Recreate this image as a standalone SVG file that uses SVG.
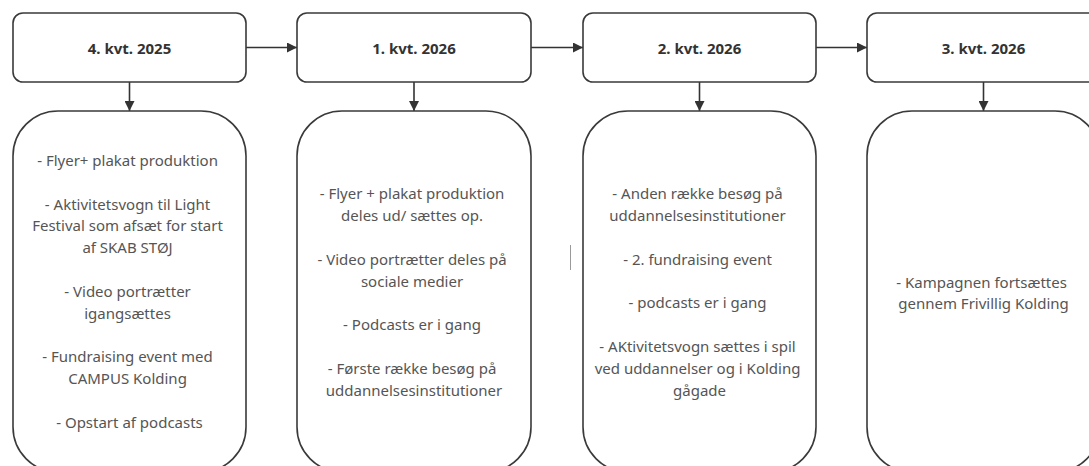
<svg xmlns="http://www.w3.org/2000/svg" width="1089" height="466" viewBox="0 0 1089 466">
<defs>
<marker id="ah" viewBox="0 0 10 10" refX="10" refY="5" markerWidth="10" markerHeight="10" markerUnits="userSpaceOnUse" orient="auto">
<path d="M0,0 L10,5 L0,10 Z" fill="#333333"/>
</marker>
</defs>
<style>
.hdr{fill:#ffffff;stroke:#3a3a3a;stroke-width:1.6}
.box{fill:#ffffff;stroke:#3a3a3a;stroke-width:1.6}
.ht{font-family:"Noto Sans","Open Sans","Liberation Sans",sans-serif;font-size:15px;font-weight:bold;fill:#333333;text-anchor:middle;dominant-baseline:central}
.bt{font-family:"Noto Sans","Open Sans","Liberation Sans",sans-serif;font-size:15px;fill:#555555;text-anchor:middle;dominant-baseline:central}
.con{fill:none;stroke:#333333;stroke-width:1.6;marker-end:url(#ah)}
</style>
<rect width="1089" height="466" fill="#ffffff"/>
<g id="connectors">
<line class="con" x1="246" y1="47.5" x2="297" y2="47.5"/>
<line class="con" x1="531" y1="47.5" x2="583" y2="47.5"/>
<line class="con" x1="816" y1="47.5" x2="867" y2="47.5"/>
<line class="con" x1="129.5" y1="82" x2="129.5" y2="111"/>
<line class="con" x1="414" y1="82" x2="414" y2="111"/>
<line class="con" x1="699.5" y1="82" x2="699.5" y2="111"/>
<line class="con" x1="983.5" y1="82" x2="983.5" y2="111"/>
</g>
<g id="h1"><rect class="hdr" x="13" y="13" width="233" height="69" rx="10"/><text class="ht" x="129.5" y="48">4. kvt. 2025</text></g>
<g id="h2"><rect class="hdr" x="297" y="13" width="234" height="69" rx="10"/><text class="ht" x="414" y="48">1. kvt. 2026</text></g>
<g id="h3"><rect class="hdr" x="583" y="13" width="233" height="69" rx="10"/><text class="ht" x="699.5" y="48">2. kvt. 2026</text></g>
<g id="h4"><rect class="hdr" x="867" y="13" width="233" height="69" rx="10"/><text class="ht" x="983.5" y="48">3. kvt. 2026</text></g>
<g id="b1"><rect class="box" x="13" y="111" width="233" height="361" rx="45"/>
<text class="bt" x="129.5">
<tspan x="129.5" y="160">- Flyer+ plakat produktion</tspan>
<tspan x="129.5" y="203.6">- Aktivitetsvogn til Light</tspan>
<tspan x="129.5" y="225.4">Festival som afsæt for start</tspan>
<tspan x="129.5" y="247.2">af SKAB STØJ</tspan>
<tspan x="129.5" y="290.8">- Video portrætter</tspan>
<tspan x="129.5" y="312.6">igangsættes</tspan>
<tspan x="129.5" y="356.2">- Fundraising event med</tspan>
<tspan x="129.5" y="378">CAMPUS Kolding</tspan>
<tspan x="129.5" y="421.6">- Opstart af podcasts</tspan>
</text></g>
<g id="b2"><rect class="box" x="297" y="111" width="234" height="361" rx="45"/>
<text class="bt" x="414">
<tspan x="414" y="193.4">- Flyer + plakat produktion</tspan>
<tspan x="414" y="215.2">deles ud/ sættes op.</tspan>
<tspan x="414" y="258.8">- Video portrætter deles på</tspan>
<tspan x="414" y="280.6">sociale medier</tspan>
<tspan x="414" y="324.2">- Podcasts er i gang</tspan>
<tspan x="414" y="367.8">- Første række besøg på</tspan>
<tspan x="414" y="389.6">uddannelsesinstitutioner</tspan>
</text></g>
<g id="b3"><rect class="box" x="583" y="111" width="233" height="361" rx="45"/>
<text class="bt" x="699.5">
<tspan x="699.5" y="193.4">- Anden række besøg på</tspan>
<tspan x="699.5" y="215.2">uddannelsesinstitutioner</tspan>
<tspan x="699.5" y="258.8">- 2. fundraising event</tspan>
<tspan x="699.5" y="302.4">- podcasts er i gang</tspan>
<tspan x="699.5" y="346">- AKtivitetsvogn sættes i spil</tspan>
<tspan x="699.5" y="367.8">ved uddannelser og i Kolding</tspan>
<tspan x="699.5" y="389.6">gågade</tspan>
</text></g>
<g id="b4"><rect class="box" x="867" y="111" width="233" height="361" rx="45"/>
<text class="bt" x="983.5">
<tspan x="983.5" y="281.6">- Kampagnen fortsættes</tspan>
<tspan x="983.5" y="303.4">gennem Frivillig Kolding</tspan>
</text></g>
<line x1="570.5" y1="245" x2="570.5" y2="270" stroke="#9a9a9a" stroke-width="1"/>
</svg>
